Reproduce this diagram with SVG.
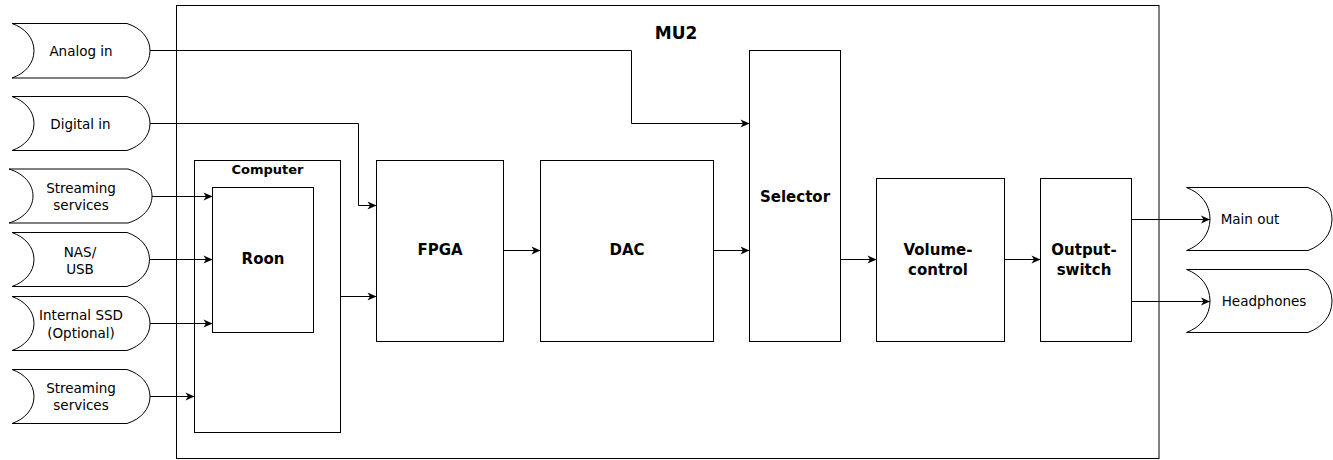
<svg xmlns="http://www.w3.org/2000/svg" width="1333" height="460" viewBox="0 0 1333 460">
<style>
.box{fill:#fff;stroke:#000;stroke-width:1}
.io{fill:#fff;stroke:#000;stroke-width:1}
.ln{fill:none;stroke:#000;stroke-width:1}
.t{font-family:"DejaVu Sans",Verdana,sans-serif;font-size:13.5px;fill:#000;text-anchor:middle;dominant-baseline:central}
.b{font-family:"DejaVu Sans",Verdana,sans-serif;font-weight:bold;font-size:15px;fill:#000;text-anchor:middle;dominant-baseline:central}
</style>
<defs>
<marker id="arr" markerUnits="userSpaceOnUse" markerWidth="12" markerHeight="10" viewBox="-10 -5 12 10" refX="0" refY="0" orient="auto">
<path d="M0,0 L-9,-4 L-6.5,0 L-9,4 Z" fill="#000"/>
</marker>
</defs>
<rect width="1333" height="460" fill="#fff"/>
<g id="mu2">
<rect class="box" x="176.5" y="5.5" width="982.5" height="453"/>
<text class="b" x="676" y="33" style="font-size:17px">MU2</text>
</g>
<g id="analog-in">
<path class="io" d="M12,23.5 H127 C141,28 150,38 150,50.75 C150,63.5 141,73.5 127,78 H12 C25,73.5 34,63.5 34,50.75 C34,38 25,28 12,23.5 Z"/>
<text class="t" x="81" y="51">Analog in</text>
</g>
<g id="digital-in">
<path class="io" d="M12,96.5 H127 C141,101 150,111 150,123.5 C150,136 141,146 127,150.5 H12 C25,146 34,136 34,123.5 C34,111 25,101 12,96.5 Z"/>
<text class="t" x="80.5" y="123.5">Digital in</text>
</g>
<g id="streaming-1">
<path class="io" d="M9,169 H128 C142.4,173.5 152,183.5 152,196 C152,208.5 142.4,218.5 128,223 H9 C23.4,218.5 33,208.5 33,196 C33,183.5 23.4,173.5 9,169 Z"/>
<text class="t" x="81" y="187.5">Streaming</text>
<text class="t" x="81" y="205">services</text>
</g>
<g id="nas-usb">
<path class="io" d="M12,232.5 H127 C140.5,237 149.5,247 149.5,259.5 C149.5,272 140.5,282 127,286.5 H12 C25,282 34,272 34,259.5 C34,247 25,237 12,232.5 Z"/>
<text class="t" x="80" y="251.5">NAS/</text>
<text class="t" x="80" y="268.5">USB</text>
</g>
<g id="internal-ssd">
<path class="io" d="M12,296.5 H127 C141,301 150,311 150,323.5 C150,336 141,346 127,350.5 H12 C25,346 34,336 34,323.5 C34,311 25,301 12,296.5 Z"/>
<text class="t" x="81" y="314.5">Internal SSD</text>
<text class="t" x="81" y="332.5">(Optional)</text>
</g>
<g id="streaming-2">
<path class="io" d="M12,369.5 H127 C141,374 150,384 150,396.5 C150,409 141,419 127,423.5 H12 C25,419 34,409 34,396.5 C34,384 25,374 12,369.5 Z"/>
<text class="t" x="81" y="387.5">Streaming</text>
<text class="t" x="81" y="405">services</text>
</g>
<g id="computer">
<rect class="box" x="194.5" y="160.5" width="146" height="272"/>
<text class="b" x="267.5" y="169" style="font-size:13px">Computer</text>
</g>
<g id="roon">
<rect class="box" x="212.5" y="187.5" width="101" height="145"/>
<text class="b" x="263" y="259">Roon</text>
</g>
<g id="fpga">
<rect class="box" x="376.5" y="160.5" width="127" height="181"/>
<text class="b" x="440" y="250">FPGA</text>
</g>
<g id="dac">
<rect class="box" x="540.5" y="160.5" width="173" height="181"/>
<text class="b" x="627" y="250">DAC</text>
</g>
<g id="selector">
<rect class="box" x="749.5" y="50.5" width="91" height="291"/>
<text class="b" x="795" y="196.5">Selector</text>
</g>
<g id="volume-control">
<rect class="box" x="876.5" y="178.5" width="128" height="163"/>
<text class="b" x="938" y="249.5">Volume-</text>
<text class="b" x="938" y="270">control</text>
</g>
<g id="output-switch">
<rect class="box" x="1040.5" y="178.5" width="91" height="163"/>
<text class="b" x="1084" y="249.5">Output-</text>
<text class="b" x="1084" y="270">switch</text>
</g>
<g id="main-out">
<path class="io" d="M1186.5,187.5 H1308 C1322.4,192.7 1332,204.2 1332,219 C1332,233.8 1322.4,245.3 1308,250.5 H1186.5 C1200.6,245.3 1210,233.8 1210,219 C1210,204.2 1200.6,192.7 1186.5,187.5 Z"/>
<text class="t" x="1250" y="219">Main out</text>
</g>
<g id="headphones">
<path class="io" d="M1186.5,269.5 H1308 C1322.4,274.7 1332,286.2 1332,301 C1332,315.8 1322.4,327.3 1308,332.5 H1186.5 C1200.6,327.3 1210,315.8 1210,301 C1210,286.2 1200.6,274.7 1186.5,269.5 Z"/>
<text class="t" x="1264" y="301">Headphones</text>
</g>
<g id="connectors">
<path class="ln" d="M150,50.5 H631.5 V123.5 H749.5" marker-end="url(#arr)"/>
<path class="ln" d="M150,123.5 H358.5 V205.5 H376.5" marker-end="url(#arr)"/>
<path class="ln" d="M152,196.5 H212.5" marker-end="url(#arr)"/>
<path class="ln" d="M149.5,259.5 H212.5" marker-end="url(#arr)"/>
<path class="ln" d="M150,323.5 H212.5" marker-end="url(#arr)"/>
<path class="ln" d="M150,396.5 H194.5" marker-end="url(#arr)"/>
<path class="ln" d="M340.5,296.5 H376.5" marker-end="url(#arr)"/>
<path class="ln" d="M503.5,250.5 H540.5" marker-end="url(#arr)"/>
<path class="ln" d="M713.5,250.5 H749.5" marker-end="url(#arr)"/>
<path class="ln" d="M840.5,259.5 H876.5" marker-end="url(#arr)"/>
<path class="ln" d="M1004.5,259.5 H1040.5" marker-end="url(#arr)"/>
<path class="ln" d="M1131.5,219.5 H1210" marker-end="url(#arr)"/>
<path class="ln" d="M1131.5,301.5 H1210" marker-end="url(#arr)"/>
</g>
</svg>
